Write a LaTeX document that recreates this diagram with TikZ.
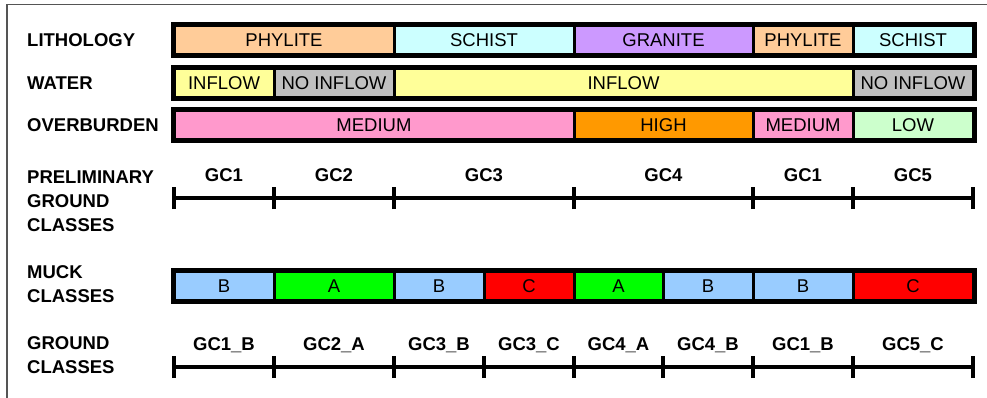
\documentclass[tikz,border=0pt]{standalone}
\usepackage{fontspec}
\setmainfont{Liberation Sans}
\usetikzlibrary{positioning}

\definecolor{phylite}{HTML}{FFCC99}
\definecolor{schist}{HTML}{CCFFFF}
\definecolor{granite}{HTML}{CC99FF}
\definecolor{inflow}{HTML}{FFFF99}
\definecolor{noinflow}{HTML}{C0C0C0}
\definecolor{medium}{HTML}{FF99CC}
\definecolor{high}{HTML}{FF9900}
\definecolor{low}{HTML}{CCFFCC}
\definecolor{muckA}{HTML}{00FF00}
\definecolor{muckB}{HTML}{99CCFF}
\definecolor{muckC}{HTML}{FF0000}
\definecolor{framegray}{HTML}{555555}

\begin{document}
\begin{tikzpicture}[x=1pt, y=-1pt,
	seg/.style={draw, line width=3pt, inner sep=0pt, minimum height=29pt, font=\fontsize{18.5}{18.5}\selectfont},
	barframe/.style={draw, line width=4pt},
	rowlabel/.style={anchor=west, align=left, inner sep=0pt, font=\bfseries\fontsize{18.5}{24}\selectfont},
	gclabel/.style={inner sep=0pt, font=\bfseries\fontsize{18.5}{18.5}\selectfont},
	gcline/.style={line width=4pt}]
	\useasboundingbox (0,0) rectangle (987,398);
	\draw[framegray, line width=1.5pt] (7,398) -- (7,4.5) -- (987,4.5);

	% row titles
	\node[rowlabel] (tlith) at (27,40.5) {LITHOLOGY};
	\node[rowlabel] (twater) at (27,83) {WATER};
	\node[rowlabel] (tover) at (27,125) {OVERBURDEN};
	\node[rowlabel] (tprelim) at (27,201.5) {PRELIMINARY\\GROUND\\CLASSES};
	\node[rowlabel] (tmuck) at (27,284.5) {MUCK\\CLASSES};
	\node[rowlabel] (tground) at (27,355) {GROUND\\CLASSES};

	% bars
	\foreach \a/\b/\c/\t [count=\i] in {174/394/phylite/PHYLITE, 394/574/schist/SCHIST, 574/753/granite/GRANITE, 753/853/phylite/PHYLITE, 853/973/schist/SCHIST}
		\node[seg, fill=\c, minimum width={(\b-\a)*1pt}] (lith\i) at ({(\a+\b)/2},40.5) {\t};
	\draw[barframe] (lith1.north west) rectangle (lith5.south east);

	\foreach \a/\b/\c/\t [count=\i] in {174/274/inflow/INFLOW, 274/394/noinflow/NO INFLOW, 394/853/inflow/INFLOW, 853/973/noinflow/NO INFLOW}
		\node[seg, fill=\c, minimum width={(\b-\a)*1pt}] (water\i) at ({(\a+\b)/2},83) {\t};
	\draw[barframe] (water1.north west) rectangle (water4.south east);

	\foreach \a/\b/\c/\t [count=\i] in {174/574/medium/MEDIUM, 574/753/high/HIGH, 753/853/medium/MEDIUM, 853/973/low/LOW}
		\node[seg, fill=\c, minimum width={(\b-\a)*1pt}] (over\i) at ({(\a+\b)/2},125) {\t};
	\draw[barframe] (over1.north west) rectangle (over4.south east);

	\foreach \a/\b/\t [count=\i] in {174/274/B, 274/394/A, 394/484/B, 484/574/C, 574/663/A, 663/753/B, 753/853/B, 853/973/C}
		\node[seg, fill=muck\t, minimum width={(\b-\a)*1pt}] (muck\i) at ({(\a+\b)/2},286) {\t};
	\draw[barframe] (muck1.north west) rectangle (muck8.south east);

	% preliminary ground classes
	\foreach \a/\b/\t [count=\i] in {174/274/GC1, 274/394/GC2, 394/574/GC3, 574/753/GC4, 753/853/GC1, 853/973/GC5} {
		\coordinate (pl\i) at (\a,198);
		\coordinate (pr\i) at (\b,198);
		\node[gclabel] (pgc\i) at ({(\a+\b)/2},175) {\t};
		\draw[gcline] (pl\i) -- (pr\i);
		\draw[gcline] ([yshift=-11pt]pl\i) -- ([yshift=11pt]pl\i);
	}
	\draw[gcline] ([yshift=-11pt]pr6) -- ([yshift=11pt]pr6);

	% ground classes
	\foreach \a/\b/\t [count=\i] in {174/274/GC1\_B, 274/394/GC2\_A, 394/484/GC3\_B, 484/574/GC3\_C, 574/663/GC4\_A, 663/753/GC4\_B, 753/853/GC1\_B, 853/973/GC5\_C} {
		\coordinate (gl\i) at (\a,367);
		\coordinate (gr\i) at (\b,367);
		\node[gclabel] (gc\i) at ({(\a+\b)/2},345) {\t};
		\draw[gcline] (gl\i) -- (gr\i);
		\draw[gcline] ([yshift=-11pt]gl\i) -- ([yshift=11pt]gl\i);
	}
	\draw[gcline] ([yshift=-11pt]gr8) -- ([yshift=11pt]gr8);
\end{tikzpicture}
\end{document}
